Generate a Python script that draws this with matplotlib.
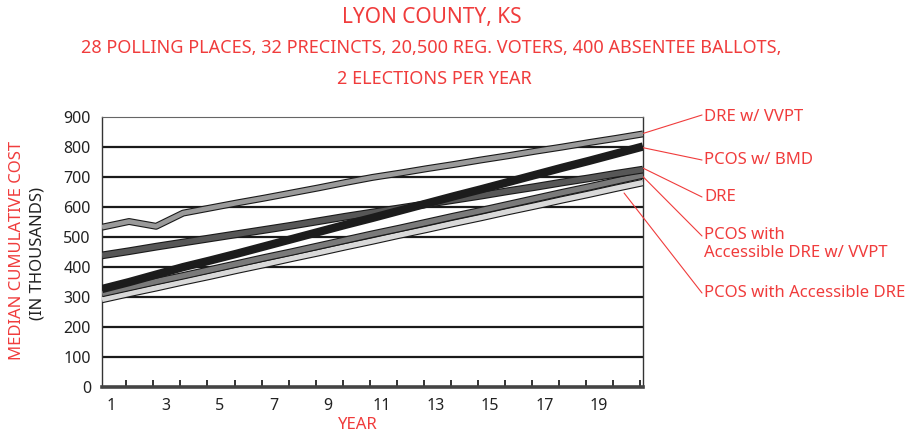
import numpy as np
import matplotlib.pyplot as plt
import matplotlib.patheffects as pe

plt.rcParams['font.family'] = ['Noto Sans', 'DejaVu Sans']

# median cumulative cost (in thousands), 21 points read across the plot width
dre_vvpt = [531, 550, 534, 578, 595, 612, 628, 645, 662, 680, 697,
            711, 726, 740, 755, 769, 784, 798, 813, 827, 842]
pcos_bmd = [325, 348, 373, 398, 420, 443, 467, 491, 515, 539, 562,
            586, 610, 634, 657, 681, 705, 729, 752, 776, 800]
dre = [437, 451, 466, 480, 494, 508, 522, 536, 551, 566, 580,
       594, 608, 622, 636, 651, 665, 680, 694, 709, 723]
pcos_acc_vvpt = [310, 330, 350, 369, 389, 409, 429, 448, 468, 488, 508,
                 527, 547, 567, 586, 606, 626, 646, 665, 685, 705]
pcos_acc = [290, 310, 329, 349, 368, 388, 407, 427, 446, 466, 485,
            505, 524, 544, 563, 583, 602, 622, 641, 661, 680]

years = list(range(1, 21))
year_labels = [str(y) for y in years if y % 2 == 1]
y_ticks = list(range(0, 1000, 100))

RED = '#f03c3c'
W, H = 907, 436

fig = plt.figure(figsize=(W / 100, H / 100), dpi=100)
ax = fig.add_axes([102 / W, 1 - 386.5 / H, 541 / W, 270 / H])

xs = np.linspace(0.5, 20.5, len(dre_vvpt))

def band(vals, color, lw, outline=True, z=3):
    effects = [pe.Stroke(linewidth=lw + 1.6, foreground='#1a1a1a'), pe.Normal()] if outline else None
    ax.plot(xs, vals, color=color, lw=lw, solid_capstyle='butt', solid_joinstyle='round',
            path_effects=effects, zorder=z)

band(pcos_acc, '#d9d9d9', 3.8, z=3)
band(pcos_acc_vvpt, '#7a7a7a', 3.8, z=4)
band(dre, '#575757', 4.0, z=5)
band(pcos_bmd, '#1c1c1c', 6.0, outline=False, z=6)
band(dre_vvpt, '#9a9a9a', 3.4, z=7)

ax.set_xlim(0.5, 20.5)
ax.set_ylim(0, 900)
ax.set_yticks(y_ticks)
ax.tick_params(axis='y', length=0, pad=8, labelsize=11.5, labelcolor='#222')
for v in y_ticks[1:-1]:
    ax.axhline(v, color='#1a1a1a', lw=1.6, zorder=2)

ax.set_xticks([y - 0.15 for y in years if y % 2 == 1])
ax.set_xticklabels(year_labels)
ax.set_xticks(np.arange(1.4, 20.5, 1), minor=True)
ax.tick_params(axis='x', which='major', length=0, pad=8, labelsize=11.5, labelcolor='#222')
ax.tick_params(axis='x', which='minor', direction='in', length=5, width=1.4, color='#333')

for s in ['left', 'right']:
    ax.spines[s].set_color('#333')
    ax.spines[s].set_linewidth(1.0)
ax.spines['top'].set_color('#666')
ax.spines['top'].set_linewidth(0.8)
ax.spines['bottom'].set_color('#444')
ax.spines['bottom'].set_linewidth(2.6)

def px(x, y):
    return (x / W, 1 - y / H)

fig.text(*px(432, 18), 'LYON COUNTY, KS', color=RED, fontsize=15, ha='center', va='center')
fig.text(*px(431, 48), '28 POLLING PLACES, 32 PRECINCTS, 20,500 REG. VOTERS, 400 ABSENTEE BALLOTS,',
         color=RED, fontsize=13, ha='center', va='center')
fig.text(*px(434, 79), '2 ELECTIONS PER YEAR', color=RED, fontsize=13, ha='center', va='center')

fig.text(*px(17, 250), 'MEDIAN CUMULATIVE COST', color=RED, fontsize=12, rotation=90,
         ha='center', va='center')
fig.text(*px(38, 253), '(IN THOUSANDS)', color='#222', fontsize=12, rotation=90,
         ha='center', va='center')
fig.text(*px(358, 425), 'YEAR', color=RED, fontsize=12, ha='center', va='center')

# callout labels with leader lines
callouts = [
    ('DRE w/ VVPT', 117, (702, 115), (20.45, 842)),
    ('PCOS w/ BMD', 160, (702, 160), (20.45, 797)),
    ('DRE', 197, (702, 197), (20.5, 728)),
    ('PCOS with\nAccessible DRE w/ VVPT', 244, (702, 236), (20.45, 704)),
    ('PCOS with Accessible DRE', 293, (702, 293), (19.8, 645)),
]
for text, ty, start, end in callouts:
    fig.text(*px(704, ty), text, color=RED, fontsize=12, ha='left', va='center', linespacing=1.2)
    ax.annotate('', xy=end, xycoords='data', xytext=px(*start), textcoords='figure fraction',
                arrowprops=dict(arrowstyle='-', color=RED, lw=0.8, shrinkA=0, shrinkB=0),
                annotation_clip=False)

plt.savefig('out.png', dpi=100)
